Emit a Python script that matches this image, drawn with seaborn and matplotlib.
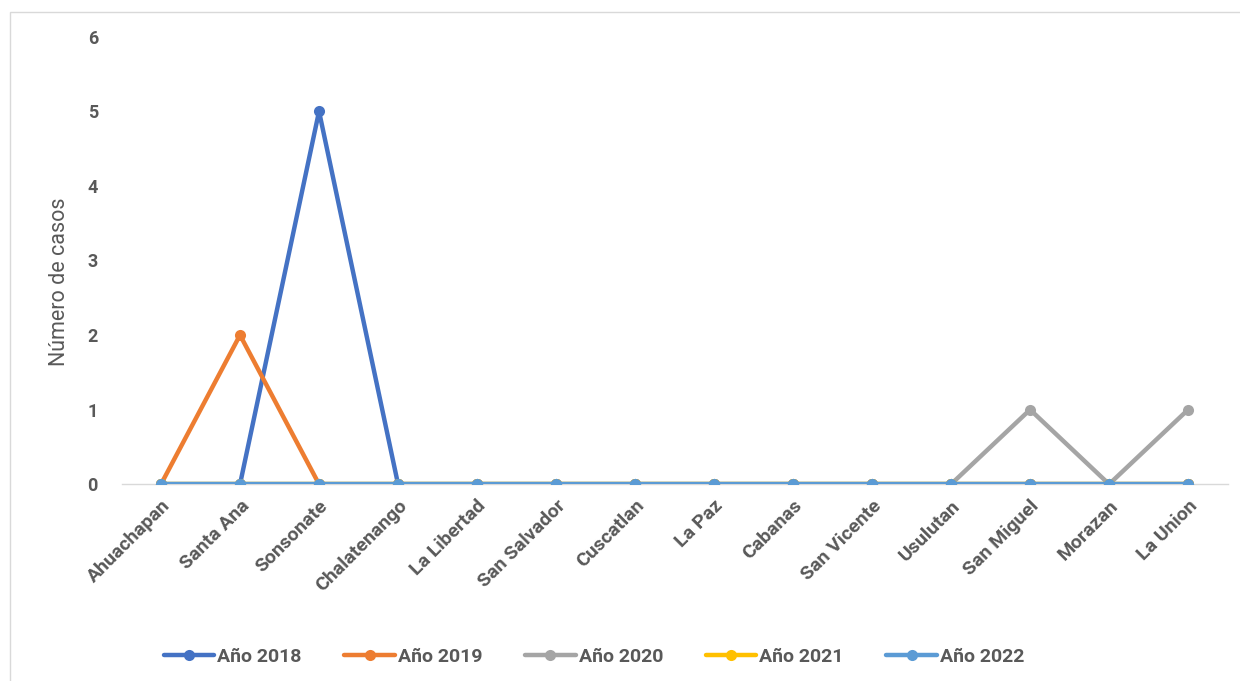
import matplotlib
matplotlib.use("Agg")
import matplotlib.pyplot as plt
import pandas as pd
import seaborn as sns
from matplotlib.patches import Rectangle

# ── data ─────────────────────────────────────────────────────────────────────
departamentos = ["Ahuachapan", "Santa Ana", "Sonsonate", "Chalatenango",
                 "La Libertad", "San Salvador", "Cuscatlan", "La Paz",
                 "Cabanas", "San Vicente", "Usulutan", "San Miguel",
                 "Morazan", "La Union"]
anio_2018 = [0, 0, 5, 0, 0, 0, 0, 0, 0, 0, 0, 0, 0, 0]
anio_2019 = [0, 2, 0, 0, 0, 0, 0, 0, 0, 0, 0, 0, 0, 0]
anio_2020 = [0, 0, 0, 0, 0, 0, 0, 0, 0, 0, 0, 1, 0, 1]
anio_2021 = [0, 0, 0, 0, 0, 0, 0, 0, 0, 0, 0, 0, 0, 0]
anio_2022 = [0, 0, 0, 0, 0, 0, 0, 0, 0, 0, 0, 0, 0, 0]

series = {"Año 2018": anio_2018, "Año 2019": anio_2019, "Año 2020": anio_2020,
          "Año 2021": anio_2021, "Año 2022": anio_2022}
colores = ["#4472C4", "#ED7D31", "#A5A5A5", "#FFC000", "#5B9BD5"]

df = pd.concat(
    [pd.DataFrame({"dep": range(len(departamentos)), "casos": v, "serie": k})
     for k, v in series.items()],
    ignore_index=True,
)

sns.set_style("white")
plt.rcParams["font.family"] = ["Roboto", "DejaVu Sans"]
TXT = "#595959"

fig = plt.figure(figsize=(12.4, 6.81), dpi=100)
ax = fig.add_axes([0.098, 0.289, 0.892, 0.657])

sns.lineplot(data=df, x="dep", y="casos", hue="serie", palette=colores,
             marker="o", markersize=8, markeredgewidth=0, linewidth=3.2,
             ax=ax, legend=True)

ax.set_xlim(-0.5, len(departamentos) - 0.5)
ax.set_ylim(0, 6)
ax.set_yticks(range(0, 7))
ax.set_yticklabels([str(i) for i in range(0, 7)], fontsize=13,
                   fontweight="bold", color=TXT)
ax.set_xticks(range(len(departamentos)))
ax.set_xticklabels(departamentos, rotation=45, ha="right",
                   rotation_mode="anchor", fontsize=14, fontweight="bold",
                   color=TXT)
ax.tick_params(axis="x", length=0, pad=9)
ax.tick_params(axis="y", length=0, pad=17)
ax.set_xlabel("")
ax.set_ylabel("Número de casos", fontsize=15.5, color=TXT)
ax.yaxis.set_label_coords(-0.047, 0.452)

for s in ["top", "right", "left"]:
    ax.spines[s].set_visible(False)
ax.spines["bottom"].set_color("#D9D9D9")
ax.spines["bottom"].set_linewidth(1)
ax.spines["bottom"].set_zorder(0)

handles, labels = ax.get_legend_handles_labels()
ax.legend_.remove()
fig.legend(handles, labels, loc="center", bbox_to_anchor=(0.479, 0.035),
           ncol=5, frameon=False, handlelength=2.6, columnspacing=2.2,
           handletextpad=0.15, prop={"size": 14, "weight": "bold"},
           labelcolor=TXT)

# light frame around the chart area
fig.patches.append(Rectangle((0.008, -0.01), 1.2, 0.993, transform=fig.transFigure,
                             fill=False, edgecolor="#D9D9D9", linewidth=1))

fig.savefig("out.png", dpi=100)
